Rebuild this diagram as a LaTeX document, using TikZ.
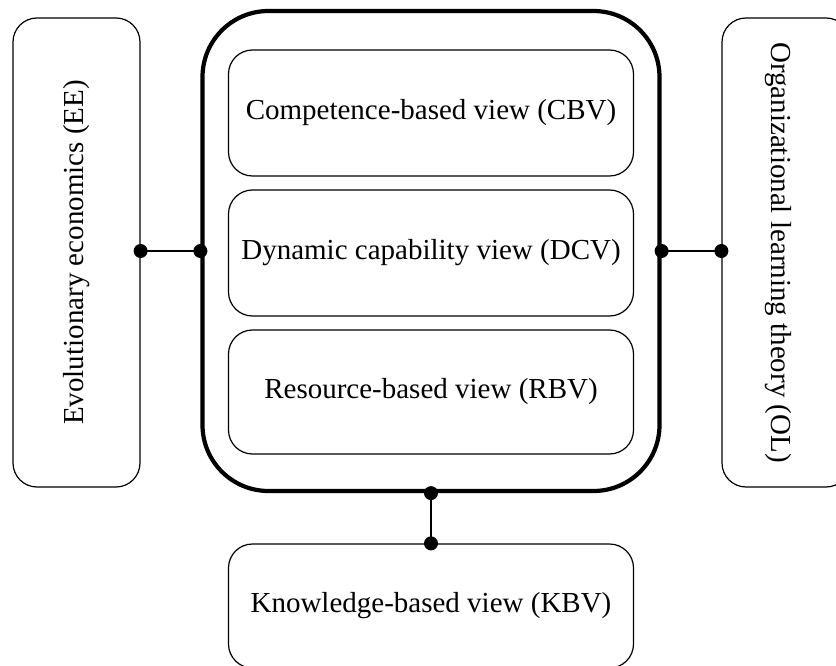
\documentclass[tikz,border=0pt]{standalone}
\usepackage{fontspec}
\setmainfont{Liberation Serif}
\begin{document}
\begin{tikzpicture}[x=1pt,y=-1pt,
  thinbox/.style={draw, line width=1.2pt, rounded corners=24pt, inner sep=0pt,
    font=\fontsize{29}{34}\selectfont},
  mainbox/.style={draw, line width=4.2pt, rounded corners=66pt, inner sep=0pt},
  link/.style={line width=1.5pt},
  dot/.style={circle, fill=black, inner sep=0pt, minimum size=14pt}]
\useasboundingbox (0,0) rectangle (836,666);
\clip (0,0) rectangle (836,666);
\node[mainbox, minimum width=457pt, minimum height=480pt] (main) at (431,251) {};
\node[thinbox, minimum width=405pt, minimum height=126pt] (cbv) at (431,113) {Competence-based view (CBV)};
\node[thinbox, minimum width=405pt, minimum height=126pt] (dcv) at (431,253) {Dynamic capability view (DCV)};
\node[thinbox, minimum width=405pt, minimum height=124pt] (rbv) at (431,392) {Resource-based view (RBV)};
\node[thinbox, minimum width=127pt, minimum height=469pt] (ee) at (76.5,252.5) {};
\node[rotate=90, font=\fontsize{29}{34}\selectfont] (eet) at (ee.center) {Evolutionary economics (EE)};
\node[thinbox, minimum width=128pt, minimum height=469pt] (ol) at (786,252.5) {};
\node[rotate=-90, font=\fontsize{29}{34}\selectfont] (olt) at (778,252.5) {Organizational learning theory (OL)};
\node[thinbox, minimum width=405pt, minimum height=124pt] (kbv) at (431,606) {};
\node[font=\fontsize{29}{34}\selectfont] (kbvt) at (431,606) {Knowledge-based view (KBV)};
\draw[link] (ee.east |- main.west) -- (main.west);
\draw[link] (main.east) -- (ol.west |- main.east);
\draw[link] (main.south) -- (kbv.north);
\node[dot] at (ee.east |- main.west) {};
\node[dot] at (main.west) {};
\node[dot] at (main.east) {};
\node[dot] at (ol.west |- main.east) {};
\node[dot] at (main.south) {};
\node[dot] at (kbv.north) {};
\end{tikzpicture}
\end{document}
